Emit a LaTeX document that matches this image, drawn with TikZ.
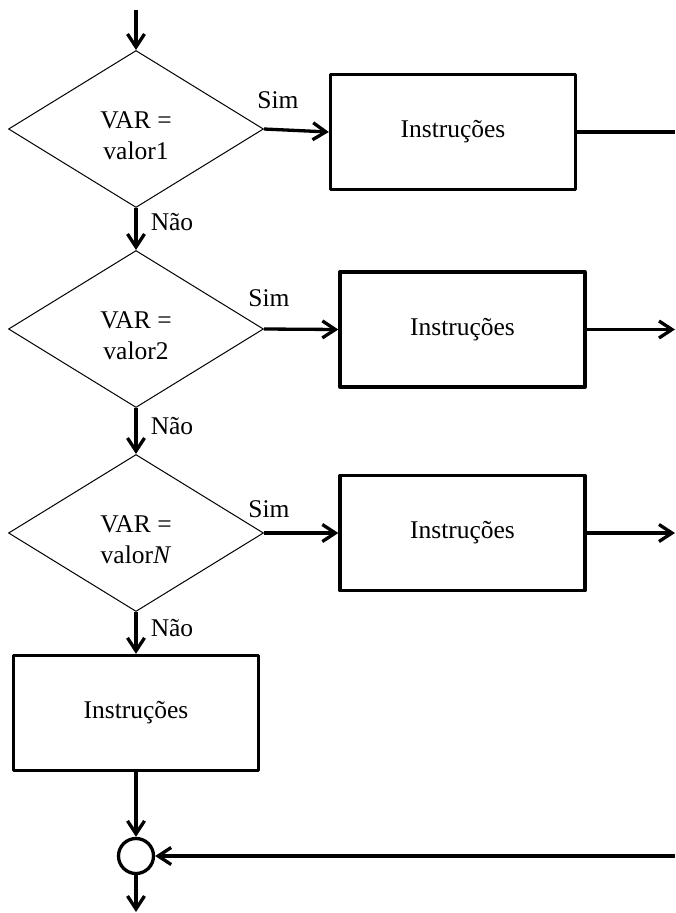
\documentclass[tikz,border=0pt]{standalone}
\usepackage{fontspec}
\setmainfont{Liberation Serif}
\usetikzlibrary{shapes.geometric,arrows.meta}

\begin{document}
\begin{tikzpicture}[
  x=1pt, y=-1pt,
  every node/.style={font=\fontsize{25.5}{31}\selectfont},
  decision/.style={draw, shape=diamond, line width=1pt, inner sep=0pt,
    minimum width=255pt, minimum height=157pt},
  cond/.style={align=center, inner sep=0pt},
  process/.style={draw, rectangle, line width=3.3pt, line join=round,
    minimum width=245pt, minimum height=115pt, inner sep=0pt},
  joint/.style={draw, circle, line width=3.3pt, minimum size=35pt, inner sep=0pt},
  flow/.style={line width=3.3pt, -{Straight Barb[length=13pt,width=17pt,line width=3.3pt]}},
  plain/.style={line width=3.3pt},
  tag/.style={inner sep=0pt, anchor=center}
]
\useasboundingbox (0,0) rectangle (675,913);

% decisions
\node[decision] (d1) at (136,129) {};
\node[decision] (d2) at (136,329) {};
\node[decision] (d3) at (136,533) {};
\node[cond] (t1) at (136,136) {VAR =\\valor1};
\node[cond] (t2) at (136,336) {VAR =\\valor2};
\node[cond] (t3) at (136,540) {VAR =\\valor\textit{N}};

% instruction blocks
\node[process] (b1) at (453,132) {Instruções};
\node[process] (b2) at (462.5,329.5) {Instruções};
\node[process] (b3) at (462.5,533) {Instruções};
\node[process] (b4) at (136,713) {Instruções};

% merge point
\node[joint] (m) at (136,856) {};

% free ends
\coordinate (in)  at (136,10);
\coordinate (out) at (136,912);
\coordinate (rim) at (675,0);
\coordinate (back) at (675,856);

% branch labels
\node[tag] (s1) at (278,100) {Sim};
\node[tag] (s2) at (269,298) {Sim};
\node[tag] (s3) at (269,509) {Sim};
\node[tag] (n1) at (172,222) {Não};
\node[tag] (n2) at (172,426) {Não};
\node[tag] (n3) at (172,628) {Não};

% connectors
\draw[flow] (in) -- (d1.north);
\draw[flow] (d1.south) -- (d2.north);
\draw[flow] (d2.south) -- (d3.north);
\draw[flow] (d3.south) -- (b4.north);
\draw[flow] (b4.south) -- (m.north);
\draw[flow] (m.south) -- (out);

\draw[flow] (d1.east) -- (b1.west);
\draw[flow] (d2.east) -- (b2.west);
\draw[flow] (d3.east) -- (b3.west);

\draw[plain] (b1.east) -- (b1.east -| rim);
\draw[flow] (b2.east) -- (b2.east -| rim);
\draw[flow] (b3.east) -- (b3.east -| rim);
\draw[flow] (back) -- (m.east);
\end{tikzpicture}
\end{document}
